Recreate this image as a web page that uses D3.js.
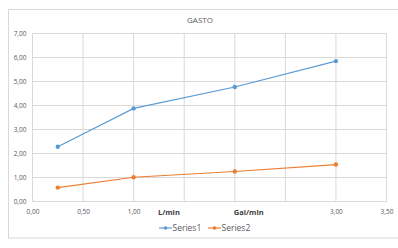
<!DOCTYPE html>
<meta charset="utf-8">
<script src="https://d3js.org/d3.v7.min.js"></script>
<style>
  body { margin: 0; background: #fff; }
  text { font-family: "Open Sans", "Liberation Sans", sans-serif; }
</style>
<div id="chart"></div>
<script>
// data
var xVals = [0.25, 1, 2, 3];
var series1 = [2.28, 3.88, 4.77, 5.85];
var series2 = [0.58, 1.01, 1.25, 1.54];
var seriesNames = ["Series1", "Series2"];
var colors = ["#5b9bd5", "#ed7d31"];
var xTicks = [0, 0.5, 1, 1.5, 2, 2.5, 3, 3.5];
var xTicksHidden = [1.5, 2, 2.5];
var yTicks = [0, 1, 2, 3, 4, 5, 6, 7];
var axisTitles = [{ text: "L/min", x: 1.24 }, { text: "Gal/min", x: 1.99 }];

var W = 398, H = 248;
var margin = { top: 33.5, right: 11.5, bottom: 46.5, left: 32.5 },
    width = W - margin.left - margin.right,
    height = H - margin.top - margin.bottom;

var svg = d3.select("#chart").append("svg")
    .attr("width", W).attr("height", H);

// chart area frame
svg.append("rect")
    .attr("x", 8.5).attr("y", 9.5)
    .attr("width", 400).attr("height", 228.5)
    .attr("fill", "#fff").attr("stroke", "#d9d9d9");

svg.append("text")
    .attr("x", 200).attr("y", 22.5)
    .attr("text-anchor", "middle")
    .attr("font-size", 8).attr("fill", "#595959")
    .text("GASTO");

var g = svg.append("g")
    .attr("transform", "translate(" + margin.left + "," + margin.top + ")");

var x = d3.scaleLinear().domain([0, 3.5]).range([0, width]);
var y = d3.scaleLinear().domain([0, 7]).range([height, 0]);

// gridlines
g.selectAll(".vgrid").data(xTicks).enter().append("line")
    .attr("x1", d => x(d)).attr("x2", d => x(d))
    .attr("y1", 0).attr("y2", height)
    .attr("stroke", "#d9d9d9");
g.selectAll(".hgrid").data(yTicks).enter().append("line")
    .attr("x1", 0).attr("x2", width)
    .attr("y1", d => y(d)).attr("y2", d => y(d))
    .attr("stroke", "#d9d9d9");

var fmt = d => d3.format(".2f")(d).replace(".", ",");

var xAxis = g.append("g")
    .attr("transform", "translate(0," + height + ")")
    .call(d3.axisBottom(x).tickValues(xTicks)
        .tickFormat(d => xTicksHidden.indexOf(d) >= 0 ? "" : fmt(d))
        .tickSize(0).tickPadding(8));
xAxis.select(".domain").remove();

var yAxis = g.append("g")
    .call(d3.axisLeft(y).tickValues(yTicks).tickFormat(fmt)
        .tickSize(0).tickPadding(6));
yAxis.select(".domain").remove();

svg.selectAll(".tick text")
    .attr("font-size", 6.5).attr("fill", "#595959")
    .attr("font-family", "'Open Sans', sans-serif");

// axis titles sitting among the x tick labels
g.selectAll(".atitle").data(axisTitles).enter().append("text")
    .attr("x", d => x(d.x)).attr("y", height + 13.5)
    .attr("font-size", 7.5).attr("font-weight", "bold")
    .attr("fill", "#404040")
    .text(d => d.text);

var all = [series1, series2];
var line = d3.line()
    .x((d, i) => x(xVals[i]))
    .y(d => y(d));

all.forEach(function (s, k) {
  g.append("path").datum(s)
    .attr("fill", "none")
    .attr("stroke", colors[k]).attr("stroke-width", 1.2)
    .attr("d", line);
  g.selectAll(".pt" + k).data(s).enter().append("circle")
    .attr("cx", (d, i) => x(xVals[i]))
    .attr("cy", d => y(d))
    .attr("r", 2.2)
    .attr("fill", colors[k]);
});

// legend
var legend = svg.append("g").attr("transform", "translate(159,228)");
var items = legend.selectAll("g").data(seriesNames).enter().append("g")
    .attr("transform", (d, i) => "translate(" + (i * 49) + ",0)");
items.append("line")
    .attr("x1", 0).attr("x2", 13)
    .attr("stroke", (d, i) => colors[i]).attr("stroke-width", 1.2);
items.append("circle")
    .attr("cx", 6.5).attr("r", 1.8)
    .attr("fill", (d, i) => colors[i]);
items.append("text")
    .attr("x", 13.5).attr("y", 3)
    .attr("font-size", 8.5).attr("fill", "#595959")
    .text(d => d);
</script>
